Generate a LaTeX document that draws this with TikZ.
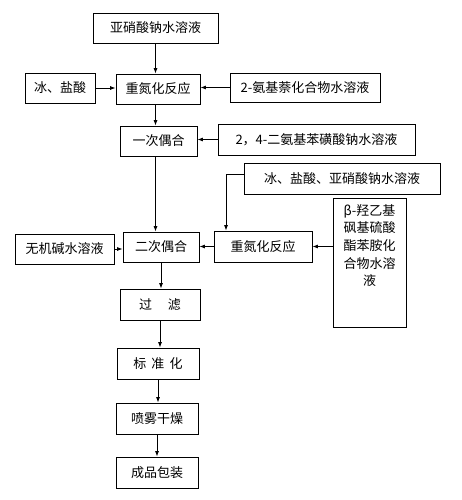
\documentclass[tikz,border=0pt]{standalone}
\usepackage{fontspec}
\setmainfont{Noto Sans CJK SC}
\usetikzlibrary{arrows.meta,calc}
\begin{document}
\begin{tikzpicture}[x=1pt,y=-1pt,
  box/.style={draw,line width=0.8pt,rectangle,inner sep=0pt,font=\fontsize{13}{17}\selectfont},
  arr/.style={line width=0.8pt,-{Latex[length=5.5pt,width=4pt]}}]
\useasboundingbox[fill=white] (0,0) rectangle (461,500);
\node[box,minimum width=125pt,minimum height=30pt] (n1) at (155.5,28) {亚硝酸钠水溶液};
\node[box,minimum width=70pt,minimum height=30pt] (ice1) at (60,88) {冰、盐酸};
\node[box,minimum width=84pt,minimum height=30pt] (dz1) at (158,89) {重氮化反应};
\node[box,minimum width=150pt,minimum height=29pt] (amn) at (305,87.5) {2-氨基萘化合物水溶液};
\node[box,minimum width=77pt,minimum height=30pt] (c1) at (158.5,141) {一次偶合};
\node[box,minimum width=197pt,minimum height=31pt] (dab) at (316.5,139.5) {2，4-二氨基苯磺酸钠水溶液};
\node[box,minimum width=196pt,minimum height=31pt] (ice2) at (342,178.5) {冰、盐酸、亚硝酸钠水溶液};
\node[box,minimum width=73pt,minimum height=129pt] (beta) at (369.5,262.5) {};
\node[font=\fontsize{13}{17.7}\selectfont,align=center,anchor=north,inner sep=0pt] (betatxt) at (369.5,204) {β-羟乙基\\砜基硫酸\\酯苯胺化\\合物水溶\\液};
\node[box,minimum width=98pt,minimum height=31pt] (dz2) at (263,246.5) {重氮化反应};
\node[box,minimum width=76pt,minimum height=30pt] (c2) at (161,247) {二次偶合};
\node[box,minimum width=99pt,minimum height=30pt] (base) at (64.5,249) {无机碱水溶液};
\node[box,minimum width=80pt,minimum height=31pt] (filt) at (160,304.5) {过\hspace{1.2em}滤};
\node[box,minimum width=82pt,minimum height=31pt] (std) at (158,363.5) {标\hspace{0.4em}准\hspace{0.4em}化};
\node[box,minimum width=82pt,minimum height=31pt] (spray) at (157,418.5) {喷雾干燥};
\node[box,minimum width=82pt,minimum height=31pt] (pack) at (157,472.5) {成品包装};
\draw[arr] (n1.south) -- (n1.south |- dz1.north);
\draw[arr] (dz1.south -| n1.south) -- (c1.north -| n1.south);
\draw[arr] (c1.south -| n1.south) -- (c2.north -| n1.south);
\draw[arr] (ice1.east) -- (ice1.east -| dz1.west);
\draw[arr] (amn.west) -- (amn.west -| dz1.east);
\draw[arr] (dab.west) -- (dab.west -| c1.east);
\draw[arr] ([yshift=4pt]ice2.west) -| ([xshift=-37pt]dz2.north);
\draw[arr] (dz2.east -| beta.west) -- (dz2.east);
\draw[arr] (dz2.west) -- (dz2.west -| c2.east);
\draw[arr] (base.east) -- (base.east -| c2.west);
\draw[arr] (c2.south) -- (c2.south |- filt.north);
\draw[arr] (filt.south) -- (filt.south |- std.north);
\draw[arr] (std.south) -- (std.south |- spray.north);
\draw[arr] (spray.south) -- (spray.south |- pack.north);
\end{tikzpicture}
\end{document}
